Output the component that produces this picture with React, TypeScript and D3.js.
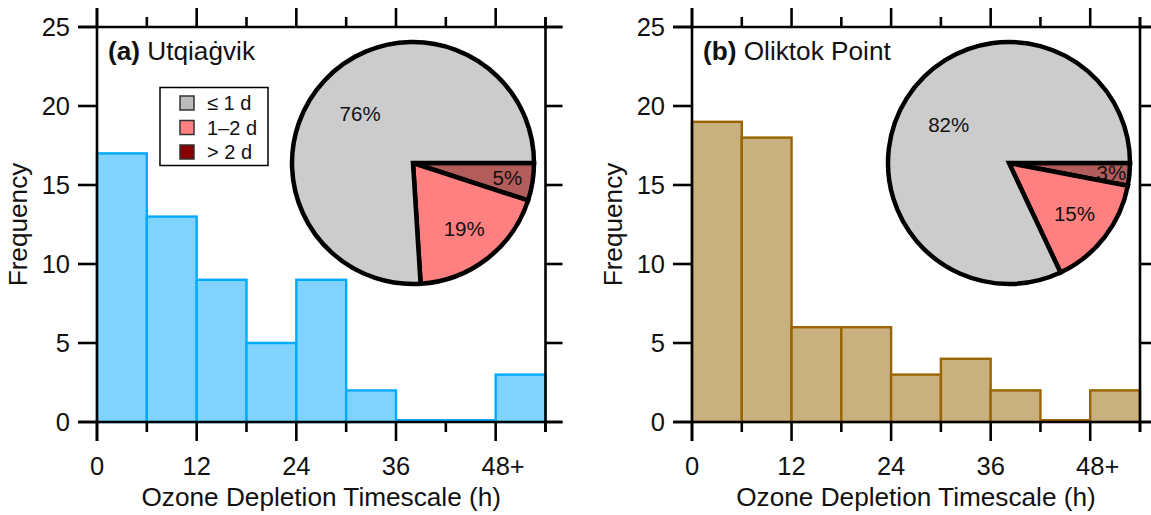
import React from "react";
import * as d3 from "d3";

// Histogram bins (hours) and counts of ozone depletion events per bin
const binStarts = [0, 6, 12, 18, 24, 30, 36, 42, 48];
const binWidth = 6;
const utqiagvikCounts = [17, 13, 9, 5, 9, 2, 0, 0, 3];
const oliktokCounts = [19, 18, 6, 6, 3, 4, 2, 0, 2];

// Pie: share of events by duration class
const durationClasses = ["≤ 1 d", "1–2 d", "> 2 d"];
const utqiagvikShares = [76, 19, 5];
const oliktokShares = [82, 15, 3];

// Axis ticks
const xMajorTicks = [0, 12, 24, 36, 48];
const xTickLabels = ["0", "12", "24", "36", "48+"];
const xMinorTicks = [6, 18, 30, 42, 54];
const yTicks = [0, 5, 10, 15, 20, 25];

const FONT = "'Liberation Sans', Arial, Helvetica, sans-serif";

const sliceFill = ["#cccccc", "#ff8080", "#b35c5c"];
const legendFill = ["#bbbbbb", "#ff8080", "#8b0000"];

type PanelProps = {
  left: number;
  right: number;
  counts: number[];
  fill: string;
  stroke: string;
  tag: string;
  site: string;
  shares: number[];
  pieCx: number;
  labelFrac: number[];
  showLegend: boolean;
};

const top = 27;
const bottom = 422;
const majorLen = 19;
const minorLen = 10;
const axisW = 2.6;
const tickFont = 25.5;

function Panel(p: PanelProps) {
  const x = d3.scaleLinear().domain([0, 54]).range([p.left, p.right]);
  const y = d3.scaleLinear().domain([0, 25]).range([bottom, top]);

  const pieR = 121;
  const pieCy = 163;
  // clockwise from 3 o'clock: > 2 d, 1–2 d, ≤ 1 d
  const order = [2, 1, 0];
  const arcs = d3
    .pie<number>()
    .sort(null)
    .value((i) => p.shares[i])
    .startAngle(Math.PI / 2)
    .endAngle(Math.PI / 2 + 2 * Math.PI)(order);
  const arcGen = d3.arc<d3.PieArcDatum<number>>().innerRadius(0).outerRadius(pieR);

  const plusShift = 0.292 * tickFont;

  return (
    <g>
      {/* histogram bars; empty bins show as a line along the baseline */}
      {binStarts.map((b, i) =>
        p.counts[i] > 0 ? (
          <rect
            key={i}
            x={x(b)}
            y={y(p.counts[i])}
            width={x(b + binWidth) - x(b)}
            height={y(0) - y(p.counts[i])}
            fill={p.fill}
            stroke={p.stroke}
            strokeWidth={2.4}
          />
        ) : (
          <line
            key={i}
            x1={x(b)}
            x2={x(b + binWidth)}
            y1={y(0) - 2}
            y2={y(0) - 2}
            stroke={p.stroke}
            strokeWidth={2}
          />
        )
      )}

      {/* frame */}
      <g stroke="#000" strokeWidth={axisW} fill="none" strokeLinecap="butt">
        <line x1={p.left} x2={p.left} y1={top - majorLen} y2={bottom + majorLen} />
        <line x1={p.right} x2={p.right} y1={top - minorLen} y2={bottom + minorLen} />
        <line x1={p.left - majorLen} x2={p.right + majorLen - 2} y1={top} y2={top} />
        <line x1={p.left - majorLen} x2={p.right + majorLen - 2} y1={bottom} y2={bottom} />
        {xMajorTicks.map((t) => (
          <g key={"M" + t}>
            <line x1={x(t)} x2={x(t)} y1={bottom} y2={bottom + majorLen} />
            <line x1={x(t)} x2={x(t)} y1={top} y2={top - majorLen} />
          </g>
        ))}
        {xMinorTicks.map((t) => (
          <g key={"m" + t}>
            <line x1={x(t)} x2={x(t)} y1={bottom} y2={bottom + minorLen} />
            <line x1={x(t)} x2={x(t)} y1={top} y2={top - minorLen} />
          </g>
        ))}
        {yTicks.map((t) => (
          <g key={"y" + t}>
            <line x1={p.left - majorLen} x2={p.left} y1={y(t)} y2={y(t)} />
            <line x1={p.right} x2={p.right + majorLen - 2} y1={y(t)} y2={y(t)} />
          </g>
        ))}
      </g>

      {/* tick labels */}
      <g fontFamily={FONT} fontSize={tickFont} fill="#111">
        {yTicks.map((t) => (
          <text key={t} x={p.left - 27} y={y(t)} dy="0.36em" textAnchor="end">
            {t}
          </text>
        ))}
        {xMajorTicks.map((t, i) => (
          <text
            key={t}
            x={x(t) + (xTickLabels[i].endsWith("+") ? plusShift : 0)}
            y={475}
            textAnchor="middle"
          >
            {xTickLabels[i]}
          </text>
        ))}
      </g>

      {/* axis titles */}
      <text
        x={(p.left + p.right) / 2}
        y={506}
        textAnchor="middle"
        fontFamily={FONT}
        fontSize={26.2}
        fill="#111"
      >
        Ozone Depletion Timescale (h)
      </text>
      <text
        transform={`translate(${p.left - 70},${(top + bottom) / 2}) rotate(-90)`}
        textAnchor="middle"
        fontFamily={FONT}
        fontSize={26.2}
        fill="#111"
      >
        Frequency
      </text>

      {/* panel title */}
      <text x={p.left + 11} y={60} fontFamily={FONT} fontSize={26.2} fill="#111">
        <tspan fontWeight="bold">{p.tag}</tspan> {p.site}
      </text>

      {/* pie of duration classes */}
      <g transform={`translate(${p.pieCx},${pieCy})`}>
        {arcs.map((a) => (
          <path
            key={a.data}
            d={arcGen(a) ?? ""}
            fill={sliceFill[a.data]}
            stroke="#000"
            strokeWidth={4.5}
            strokeLinejoin="miter"
            strokeMiterlimit={20}
          />
        ))}
        {arcs.map((a) => {
          const mid = (a.startAngle + a.endAngle) / 2;
          const r = pieR * p.labelFrac[a.data];
          return (
            <text
              key={"l" + a.data}
              x={r * Math.sin(mid)}
              y={-r * Math.cos(mid)}
              dy="0.36em"
              textAnchor="middle"
              fontFamily={FONT}
              fontSize={20.5}
              fill="#111"
            >
              {p.shares[a.data]}%
            </text>
          );
        })}
      </g>

      {/* legend */}
      {p.showLegend && (
        <g fontFamily={FONT} fontSize={20} fill="#111">
          <rect x={160} y={87.5} width={108} height={78} fill="#fff" stroke="#000" strokeWidth={1.5} />
          {durationClasses.map((c, i) => (
            <g key={c} transform={`translate(0,${103 + i * 24.5})`}>
              <rect x={180} y={-7} width={14} height={14} fill={legendFill[i]} stroke="#333" strokeWidth={1.5} />
              <text x={207} y={0} dy="0.36em">
                {c}
              </text>
            </g>
          ))}
        </g>
      )}
    </g>
  );
}

export default function App() {
  return (
    <svg
      width={1151}
      height={515}
      style={{ position: "absolute", left: 0, top: 0, background: "#fff" }}
    >
      <Panel
        left={97}
        right={545.5}
        counts={utqiagvikCounts}
        fill="#80d3ff"
        stroke="#00aaff"
        tag="(a)"
        site="Utqiaġvik"
        shares={utqiagvikShares}
        pieCx={413}
        labelFrac={[0.6, 0.69, 0.79]}
        showLegend={true}
      />
      <Panel
        left={692}
        right={1140}
        counts={oliktokCounts}
        fill="#c9b07f"
        stroke="#9a6400"
        tag="(b)"
        site="Oliktok Point"
        shares={oliktokShares}
        pieCx={1009}
        labelFrac={[0.59, 0.685, 0.85]}
        showLegend={false}
      />
    </svg>
  );
}
